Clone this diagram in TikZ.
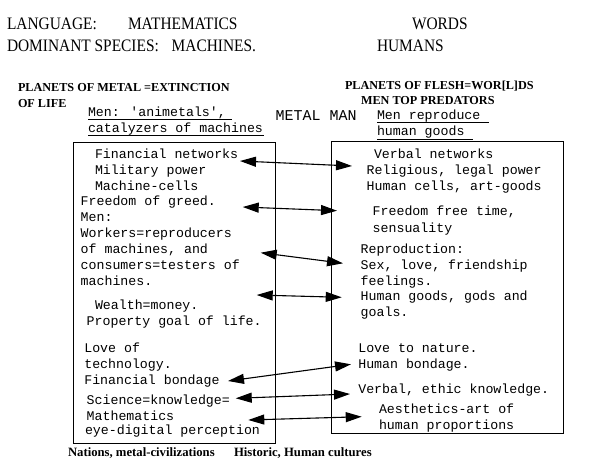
\documentclass[tikz,border=0pt]{standalone}
\usepackage{fontspec}
\setmainfont{Liberation Serif}
\newfontfamily\hdrfont[FakeStretch=0.88]{Liberation Serif}
\newfontfamily\cournew{Liberation Mono}
\usetikzlibrary{arrows.meta}
\tikzset{
  txt/.style={anchor=base west, inner sep=0pt, outer sep=0pt},
  hdr/.style={txt, font=\hdrfont\fontsize{17.5}{20}\selectfont},
  bld/.style={txt, font=\bfseries\fontsize{12.2}{14}\selectfont},
  captxt/.style={txt, font=\bfseries\fontsize{12.7}{14}\selectfont},
  mono/.style={txt, font=\cournew\fontsize{13.25}{15}\selectfont},
  monobig/.style={txt, font=\cournew\fontsize{15}{17}\selectfont},
  frame/.style={draw, line width=1pt},
  uline/.style={line width=0.9pt},
  arr/.style={line width=1.1pt, {Triangle[length=16pt,width=10pt]}-{Triangle[length=16pt,width=10pt]}}
}
\begin{document}
\begin{tikzpicture}[x=1pt,y=-1pt]
\useasboundingbox (0,0) rectangle (609,473);
% headers
\node[hdr] (h1) at (7,29.3) {LANGUAGE:};
\node[hdr] (h2) at (128,29.3) {MATHEMATICS};
\node[hdr] (h3) at (412,29.3) {WORDS};
\node[hdr] (h4) at (7,51.5) {DOMINANT SPECIES:};
\node[hdr] (h5) at (171.7,51.5) {MACHINES.};
\node[hdr] (h6) at (377,51.5) {HUMANS};
% bold headings
\node[bld] (pm1) at (18,91.7) {PLANETS OF METAL =EXTINCTION};
\node[bld] (pm2) at (18,107.7) {OF LIFE};
\node[bld] (pf1) at (345,90) {PLANETS OF FLESH=WOR[L]DS};
\node[bld] (pf2) at (361,105) {MEN TOP PREDATORS};
% underlined subtitles
\node[mono] (ma1) at (88,116.5) {Men: 'animetals',};
\node[mono] (ma2) at (88,132) {catalyzers of machines};
\draw[uline] (88,119.5) -- (232,119.5);
\draw[uline] (88,135.7) -- (264,135.7);
\node[monobig] (mm) at (275.7,121) {METAL MAN};
\node[mono] (mr1) at (377,119.3) {Men reproduce};
\node[mono] (mr2) at (377,135.7) {human goods};
\draw[uline] (377,122.5) -- (489,122.5);
\draw[uline] (377,139) -- (473,139);
% boxes
\node[frame, inner sep=0pt, minimum width=202pt, minimum height=301pt, anchor=north west] (lbox) at (73,142) {};
\node[frame, inner sep=0pt, minimum width=232pt, minimum height=292pt, anchor=north west] (rbox) at (331,141) {};
% left box text
\node[mono] (l1) at (95,158) {Financial networks};
\node[mono] (l2) at (95,174.7) {Military power};
\node[mono] (l3) at (95,190) {Machine-cells};
\node[mono] (l4) at (80.7,205.7) {Freedom of greed.};
\node[mono] (l5) at (80.7,221) {Men:};
\node[mono] (l6) at (80.7,237) {Workers=reproducers};
\node[mono] (l7) at (80.7,253) {of machines, and};
\node[mono] (l8) at (80.7,269) {consumers=testers of};
\node[mono] (l9) at (80.7,285) {machines.};
\node[mono] (l10) at (95,309) {Wealth=money.};
\node[mono] (l11) at (86.7,325.7) {Property goal of life.};
\node[mono] (l12) at (84.3,352) {Love of};
\node[mono] (l13) at (84.3,368) {technology.};
\node[mono] (l14) at (84.3,384) {Financial bondage};
\node[mono] (l15) at (86.7,404) {Science=knowledge=};
\node[mono] (l16) at (86.7,420) {Mathematics};
\node[mono] (l17) at (85,434) {eye-digital perception};
% right box text
\node[mono] (r1) at (374,158) {Verbal networks};
\node[mono] (r2) at (366.7,174) {Religious, legal power};
\node[mono] (r3) at (366.7,190) {Human cells, art-goods};
\node[mono] (r4) at (372.7,215.7) {Freedom free time,};
\node[mono] (r5) at (372.7,232) {sensuality};
\node[mono] (r6) at (360.7,253) {Reproduction:};
\node[mono] (r7) at (360.7,269) {Sex, love, friendship};
\node[mono] (r8) at (360.7,285) {feelings.};
\node[mono] (r9) at (360.7,300.7) {Human goods, gods and};
\node[mono] (r10) at (360.7,316.7) {goals.};
\node[mono] (r11) at (358.3,352) {Love to nature.};
\node[mono] (r12) at (358.3,368) {Human bondage.};
\node[mono] (r13) at (358.3,393) {Verbal, ethic knowledge.};
\node[mono] (r14) at (379,413) {Aesthetics-art of};
\node[mono] (r15) at (379,429) {human proportions};
% captions
\node[captxt] (c1) at (68,456) {Nations, metal-civilizations};
\node[captxt] (c2) at (234,456) {Historic, Human cultures};
% arrow end points
\coordinate (a1l) at (240,161); \coordinate (a1r) at (352,166);
\coordinate (a2l) at (242.7,207); \coordinate (a2r) at (337,210.7);
\coordinate (a3l) at (260.7,252.7); \coordinate (a3r) at (343,263.3);
\coordinate (a4l) at (256.7,295); \coordinate (a4r) at (341.7,297.3);
\coordinate (a5l) at (228,381); \coordinate (a5r) at (351,364.3);
\coordinate (a6l) at (235.7,398.3); \coordinate (a6r) at (350,394);
\coordinate (a7l) at (248.3,420); \coordinate (a7r) at (361.7,416.7);
\draw[arr] (a1l) -- (a1r);
\draw[arr] (a2l) -- (a2r);
\draw[arr] (a3l) -- (a3r);
\draw[arr] (a4l) -- (a4r);
\draw[arr] (a5l) -- (a5r);
\draw[arr] (a6l) -- (a6r);
\draw[arr] (a7l) -- (a7r);
\end{tikzpicture}
\end{document}
